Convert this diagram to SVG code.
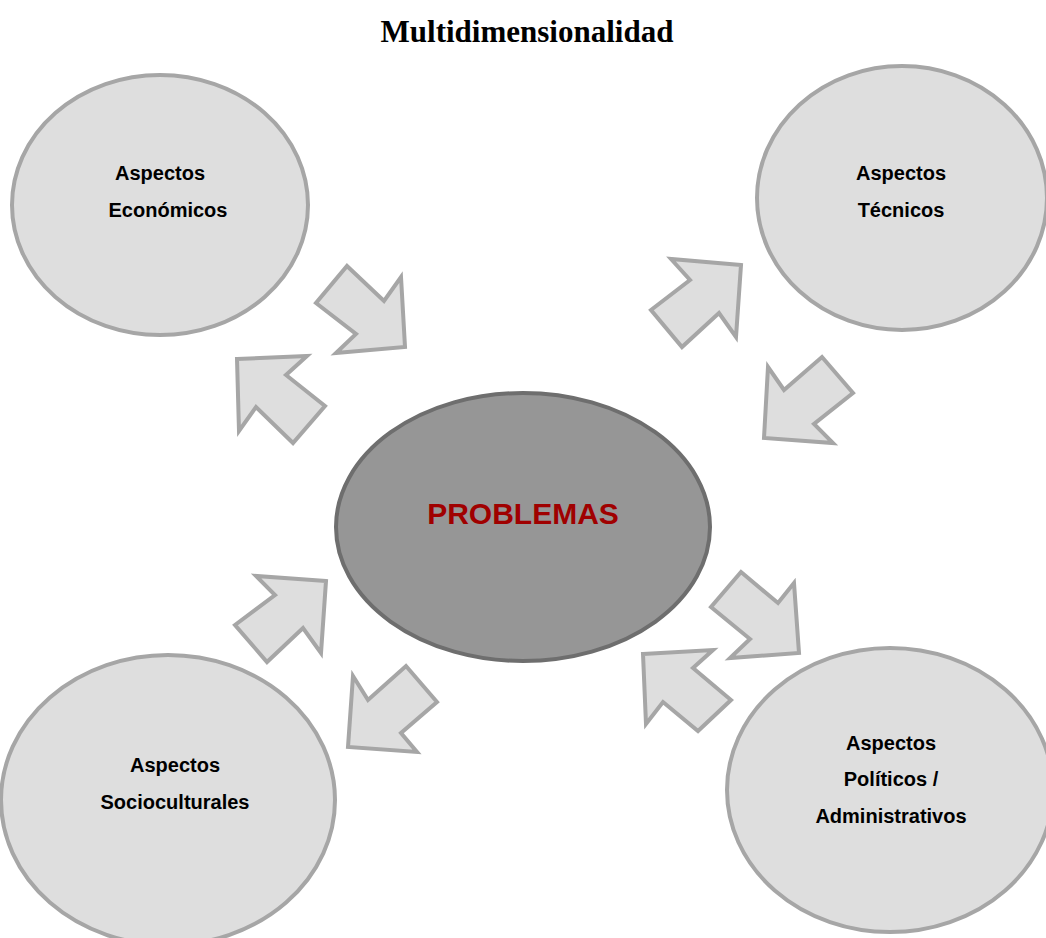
<svg xmlns="http://www.w3.org/2000/svg" width="1046" height="938" viewBox="0 0 1046 938">
<style>
.node{fill:#dedede;stroke:#a6a6a6;stroke-width:4}
.arr{fill:#dedede;stroke:#a6a6a6;stroke-width:4;stroke-linejoin:miter}
.lbl{font-family:"Liberation Sans",Arial,sans-serif;font-weight:bold;font-size:20px;fill:#000;text-anchor:middle}
</style>
<rect width="1046" height="938" fill="#fff"/>
<text x="527" y="42" text-anchor="middle" font-family="Liberation Serif,Times New Roman,serif" font-weight="bold" font-size="31" fill="#000">Multidimensionalidad</text>
<g id="economicos">
<ellipse class="node" cx="160" cy="205" rx="148" ry="130"/>
<text class="lbl" x="160" y="180">Aspectos</text>
<text class="lbl" x="168" y="217">Económicos</text>
</g>
<g id="tecnicos">
<ellipse class="node" cx="902" cy="198" rx="145" ry="132"/>
<text class="lbl" x="901" y="180">Aspectos</text>
<text class="lbl" x="901" y="217">Técnicos</text>
</g>
<g id="socioculturales">
<ellipse class="node" cx="168" cy="800" rx="167" ry="145"/>
<text class="lbl" x="175" y="772">Aspectos</text>
<text class="lbl" x="175" y="809">Socioculturales</text>
</g>
<g id="politicos">
<ellipse class="node" cx="890" cy="790" rx="163" ry="142"/>
<text class="lbl" x="891" y="750">Aspectos</text>
<text class="lbl" x="891" y="786">Políticos /</text>
<text class="lbl" x="891" y="823">Administrativos</text>
</g>
<g id="problemas">
<ellipse cx="523" cy="527" rx="187" ry="134" fill="#969696" stroke="#6e6e6e" stroke-width="4"/>
<text x="523" y="524" text-anchor="middle" font-family="Liberation Sans,Arial,sans-serif" font-weight="bold" font-size="30" fill="#a00000">PROBLEMAS</text>
</g>
<g id="connectors">
<polygon class="arr" points="347,266 384,301 401,277 405,347 336,353 356,334 316,303"/>
<polygon class="arr" points="237,359 307,356 286,375 325,406 293,443 256,407 239,431"/>
<polygon class="arr" points="741,265 671,259 690,280 651,310 682,347 719,313 736,337"/>
<polygon class="arr" points="768,367 784,390 822,357 853,393 814,424 833,443 764,438"/>
<polygon class="arr" points="326,581 256,576 275,595 235,625 267,662 303,628 321,653"/>
<polygon class="arr" points="353,676 368,700 406,666 437,702 401,733 417,752 348,747"/>
<polygon class="arr" points="741,572 778,603 794,583 799,653 730,658 750,639 711,607"/>
<polygon class="arr" points="643,654 713,650 693,668 731,700 698,731 663,702 646,724"/>
</g>
</svg>
